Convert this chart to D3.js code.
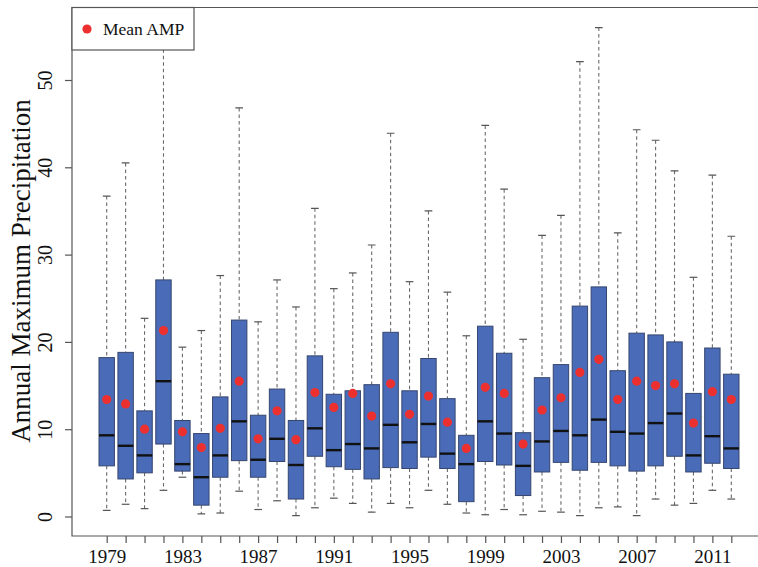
<!DOCTYPE html>
<html>
<head>
<meta charset="utf-8">
<script src="https://cdn.jsdelivr.net/npm/d3@7"></script>
<style>
  html, body { margin: 0; padding: 0; background: #ffffff; }
  svg { display: block; }
  text { font-family: "Liberation Serif", "DejaVu Serif", serif; fill: #111; }
</style>
</head>
<body>
<svg id="chart" width="758" height="567"></svg>
<script>
// Annual maximum precipitation, one box per year
const years = d3.range(1979, 2013);
const whiskerHigh = [36.7, 40.5, 22.7, 58.0, 19.4, 21.3, 27.6, 46.8, 22.3, 27.1, 24.0, 35.3, 26.1, 27.9, 31.1, 43.9, 26.9,
                     35.0, 25.7, 20.7, 44.8, 37.5, 20.3, 32.2, 34.5, 52.1, 56.0, 32.5, 44.3, 43.1, 39.6, 27.4, 39.1, 32.1];
const q3 =          [18.2, 18.8, 12.1, 27.1, 11.0,  9.5, 13.7, 22.5, 11.6, 14.6, 11.0, 18.4, 14.0, 14.4, 15.1, 21.1, 14.4,
                     18.1, 13.5,  9.3, 21.8, 18.7,  9.6, 15.9, 17.4, 24.1, 26.3, 16.7, 21.0, 20.8, 20.0, 14.1, 19.3, 16.3];
const medians =     [ 9.3,  8.1,  7.0, 15.5,  6.0,  4.5,  7.0, 10.9,  6.5,  8.9,  5.9, 10.1,  7.6,  8.3,  7.8, 10.5,  8.5,
                     10.6,  7.2,  6.0, 10.9,  9.5,  5.8,  8.6,  9.8,  9.3, 11.1,  9.7,  9.5, 10.7, 11.8,  7.0,  9.2,  7.8];
const q1 =          [ 5.8,  4.3,  5.0,  8.3,  5.2,  1.3,  4.5,  6.4,  4.5,  6.3,  2.0,  6.9,  5.7,  5.4,  4.3,  5.6,  5.5,
                      6.8,  5.5,  1.7,  6.3,  5.9,  2.4,  5.1,  6.2,  5.3,  6.2,  5.8,  5.2,  5.8,  6.9,  5.1,  6.1,  5.5];
const whiskerLow =  [ 0.7,  1.4,  0.9,  3.0,  4.5,  0.3,  0.4,  2.9,  0.8,  1.8,  0.1,  1.0,  2.1,  1.5,  0.5,  1.5,  1.0,
                      3.0,  1.4,  0.4,  0.2,  0.8,  0.2,  0.6,  0.5,  0.1,  1.0,  1.1,  0.1,  2.0,  1.3,  1.5,  3.0,  2.0];
const means =       [13.4, 12.9, 10.0, 21.3,  9.7,  7.9, 10.1, 15.5,  8.9, 12.1,  8.8, 14.2, 12.5, 14.1, 11.5, 15.2, 11.7,
                     13.8, 10.8,  7.8, 14.8, 14.1,  8.3, 12.2, 13.6, 16.5, 18.0, 13.4, 15.5, 15.0, 15.2, 10.7, 14.3, 13.4];
const yTicks = [0, 10, 20, 30, 40, 50];
const labelledYears = [1979, 1983, 1987, 1991, 1995, 1999, 2003, 2007, 2011];
const legendLabel = "Mean AMP";
const yTitle = "Annual Maximum Precipitation";

const rows = years.map((yr, i) => ({
  year: yr, hi: whiskerHigh[i], q3: q3[i], med: medians[i], q1: q1[i], lo: whiskerLow[i], mean: means[i]
}));

const svg = d3.select("#chart");
const frame = { left: 72, top: 7.5, bottom: 536, right: 770 };

const x = d3.scalePoint().domain(years).range([106.7, 731.3]);
const y = d3.scaleLinear().domain([0, 50]).range([516.5, 80]);
const boxW = 15.4;
const capW = boxW / 2;

const plot = svg.append("g");
plot.append("clipPath").attr("id", "clip")
  .append("rect").attr("x", frame.left).attr("y", frame.top)
  .attr("width", frame.right - frame.left).attr("height", frame.bottom - frame.top);

const marks = plot.append("g").attr("clip-path", "url(#clip)");

const g = marks.selectAll("g.box").data(rows).join("g").attr("class", "box")
  .attr("transform", d => `translate(${x(d.year)},0)`);

// dashed whiskers
g.append("line").attr("x1", 0).attr("x2", 0)
  .attr("y1", d => y(d.hi)).attr("y2", d => y(d.q3))
  .attr("stroke", "#6a6a6a").attr("stroke-width", 1.1).attr("stroke-dasharray", "3.5,3");
g.append("line").attr("x1", 0).attr("x2", 0)
  .attr("y1", d => y(d.q1)).attr("y2", d => y(d.lo))
  .attr("stroke", "#6a6a6a").attr("stroke-width", 1.1).attr("stroke-dasharray", "3.5,3");
// whisker caps
g.append("line").attr("x1", -capW / 2).attr("x2", capW / 2)
  .attr("y1", d => y(d.hi)).attr("y2", d => y(d.hi))
  .attr("stroke", "#555").attr("stroke-width", 1.2);
g.append("line").attr("x1", -capW / 2).attr("x2", capW / 2)
  .attr("y1", d => y(d.lo)).attr("y2", d => y(d.lo))
  .attr("stroke", "#555").attr("stroke-width", 1.2);
// boxes
g.append("rect").attr("x", -boxW / 2).attr("width", boxW)
  .attr("y", d => y(d.q3)).attr("height", d => y(d.q1) - y(d.q3))
  .attr("fill", "#4a6cb8").attr("stroke", "#35456e").attr("stroke-width", 1);
// medians
g.append("line").attr("x1", -boxW / 2).attr("x2", boxW / 2)
  .attr("y1", d => y(d.med)).attr("y2", d => y(d.med))
  .attr("stroke", "#111").attr("stroke-width", 2.4);
// means
g.append("circle").attr("cx", 0).attr("cy", d => y(d.mean)).attr("r", 4.6)
  .attr("fill", "#ec3030");

// frame: top, left, bottom (plot continues past the right edge)
const frameColor = "#555";
svg.append("path")
  .attr("d", `M${frame.right},${frame.top}H${frame.left}V${frame.bottom}H${frame.right}`)
  .attr("fill", "none").attr("stroke", frameColor).attr("stroke-width", 1.2);

// y axis
const yAxis = svg.append("g").attr("transform", `translate(${frame.left},0)`)
  .call(d3.axisLeft(y).tickValues(yTicks).tickSize(7).tickFormat(d3.format("d")));
yAxis.select(".domain").remove();
yAxis.selectAll(".tick line").attr("stroke", frameColor).attr("stroke-width", 1.2);
yAxis.selectAll(".tick text")
  .attr("x", 0).attr("dy", 0)
  .attr("transform", "translate(-20,0) rotate(-90)")
  .attr("text-anchor", "middle")
  .attr("font-size", 20).attr("fill", "#222")
  .style("font-family", "'Liberation Serif', serif");

// x axis
const xAxis = svg.append("g").attr("transform", `translate(0,${frame.bottom})`)
  .call(d3.axisBottom(x).tickSize(7).tickFormat(d => labelledYears.includes(d) ? d : ""));
xAxis.select(".domain").remove();
xAxis.selectAll(".tick line").attr("stroke", frameColor).attr("stroke-width", 1.2);
xAxis.selectAll(".tick text")
  .attr("y", 27).attr("dy", 0)
  .attr("font-size", 19).attr("fill", "#111")
  .style("font-family", "'Liberation Serif', serif");

// y title
svg.append("text")
  .attr("transform", `translate(30,271) rotate(-90)`)
  .attr("text-anchor", "middle")
  .attr("font-size", 27)
  .text(yTitle);

// legend
const legend = svg.append("g");
legend.append("rect").attr("x", frame.left).attr("y", frame.top)
  .attr("width", 122).attr("height", 42.5)
  .attr("fill", "#fff").attr("stroke", frameColor).attr("stroke-width", 1.2);
legend.append("circle").attr("cx", 87).attr("cy", 29).attr("r", 4.6).attr("fill", "#ec3030");
legend.append("text").attr("x", 103).attr("y", 35).attr("font-size", 17.5).text(legendLabel);
</script>
</body>
</html>
